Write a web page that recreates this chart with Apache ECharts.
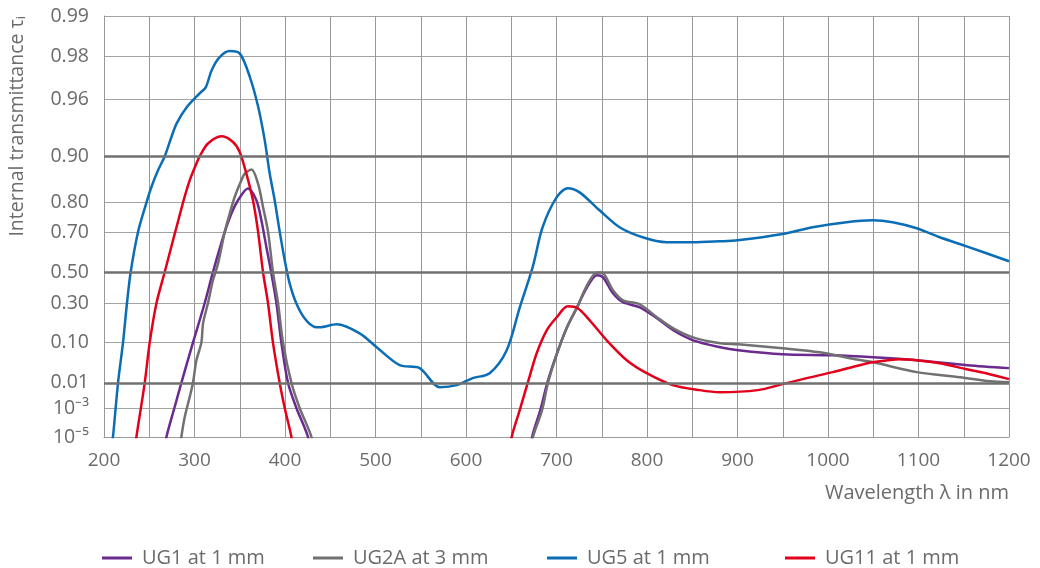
<!DOCTYPE html>
<html>
<head>
<meta charset="utf-8">
<script src="https://cdn.jsdelivr.net/npm/echarts@6/dist/echarts.min.js"></script>
<style>
  html, body { margin: 0; background: #fff; }
  #main { width: 1040px; height: 568px; }
</style>
</head>
<body>
<div id="main"></div>
<script>
// y scale ticks (internal transmittance) and where they sit on the special scale
const TICK_TAU = [1e-5, 1e-3, 0.01, 0.10, 0.30, 0.50, 0.70, 0.80, 0.90, 0.96, 0.98, 0.99];
const TICK_LABELS = ['10⁻⁵', '10⁻³', '0.01', '0.10', '0.30', '0.50', '0.70', '0.80', '0.90', '0.96', '0.98', '0.99'];
const TICK_POS = [0, 29, 54.2, 94.4, 134, 165, 205, 234.4, 281, 337.4, 380.7, 421];
const STRONG_LINES = [0.90, 0.50, 0.01];

// UG5 at 1 mm
const UG5_WL = [207, 209.9, 215.5, 221, 225.4, 229.5, 237.6, 246.9, 252.4, 259.7, 267.1, 274.5, 280.3, 291.4, 305.7, 312.4, 319, 327.8,
  338.9, 350.2, 361.2, 370.4, 377.6, 383.1, 388.6, 394.1, 399.7, 405.2, 412.6, 421.8, 432.8, 438.3, 457.1, 482.5, 501.3, 526.7, 548.8, 570.9,
  589.7, 607.4, 626.2, 645, 659.4, 673.6, 684.6, 700.1, 712.3, 725.5, 747.6, 769.7, 795.1, 821.7, 850.4, 880.2, 900.1, 949.8, 983, 1020.5,
  1049.3, 1071.4, 1098, 1123.4, 1153.2, 1200];
const UG5_T = [1e-7, 1e-5, 0.01, 0.10, 0.30, 0.50, 0.70, 0.80, 0.8407, 0.8758, 0.8995, 0.9263, 0.9410, 0.9546, 0.9638, 0.9671, 0.9750, 0.9797,
  0.9817, 0.9809, 0.9721, 0.9548, 0.9222, 0.8695, 0.8066, 0.7025, 0.5651, 0.4266, 0.2965, 0.2113, 0.1680, 0.1665, 0.1815, 0.1384, 0.0825, 0.0334, 0.028, 0.00716,
  0.00839, 0.01429, 0.0202, 0.0722, 0.2746, 0.5266, 0.7185, 0.8147, 0.8376, 0.8276, 0.7771, 0.7185, 0.6776, 0.6555, 0.6555, 0.6596, 0.6639, 0.6912, 0.7185, 0.737,
  0.7439, 0.737, 0.7145, 0.6776, 0.6361, 0.5598];

// UG11 at 1 mm (two pass bands)
const UG11_WL_A = [233, 235.8, 245, 250.5, 258, 267.1, 287.3, 294.7, 302.1, 305.7, 314.9, 329.7, 342.5, 349.9, 357.3, 364.6, 370.2, 375.7, 381.2, 386.7, 394.1, 399.7, 407.1, 410];
const UG11_T_A = [1e-7, 1e-5, 0.01, 0.10, 0.30, 0.50, 0.80, 0.8557, 0.8878, 0.8995, 0.9181, 0.9271, 0.9201, 0.9063, 0.8695, 0.8066, 0.7025, 0.50, 0.30, 0.10, 0.01, 1e-3, 1e-5, 1e-7];
const UG11_WL_B = [648, 650.5, 659.3, 668.2, 678.1, 689.2, 700.2, 712.4, 723.4, 736.7, 755.5, 777.6, 799.7, 828.4, 858.2, 880.3, 922.3, 949.9, 976.5, 1005.2, 1035, 1049.4, 1079.2, 1098, 1123.4, 1153.2, 1178.6, 1200];
const UG11_T_B = [1e-7, 1e-5, 7.5e-4, 0.0099, 0.0629, 0.1522, 0.2184, 0.2807, 0.269, 0.2021, 0.1088, 0.0442, 0.0202, 0.00839, 0.00562, 0.00472, 0.00562, 0.00907, 0.01429, 0.0217, 0.0334, 0.0395, 0.0467, 0.0442, 0.0375, 0.0262, 0.0189, 0.0133];

// UG1 at 1 mm
const UG1_WL_A = [266, 269, 278.1, 285.5, 298.3, 311.3, 320.4, 333.4, 340.8, 348.1, 359.1, 368.4, 373.9, 379.4, 385, 390.5, 396, 403.3, 412.6, 425.4, 428.5];
const UG1_T_A = [1e-7, 1e-5, 1.12e-3, 0.01, 0.10, 0.30, 0.50, 0.70, 0.7665, 0.8066, 0.8368, 0.8066, 0.7439, 0.633, 0.4902, 0.30, 0.10, 0.01, 1e-3, 1e-5, 1e-7];
const UG1_WL_B = [670, 673, 682, 690.6, 700.6, 711.6, 722.7, 733.7, 744.8, 751.4, 762.4, 773.5, 792, 811, 829, 851, 881, 901, 950, 1005, 1050, 1098, 1154, 1200];
const UG1_T_B = [1e-7, 1e-5, 7.5e-4, 0.012, 0.0629, 0.1665, 0.2746, 0.4023, 0.4797, 0.4667, 0.3634, 0.305, 0.2746, 0.2129, 0.1522, 0.1088, 0.0825, 0.0722, 0.0599, 0.0571, 0.0516, 0.0442, 0.0334, 0.028];

// UG2A at 3 mm
const UG2A_WL_A = [283, 285.5, 289.2, 294.7, 298.3, 302.1, 307.6, 309.4, 314.9, 320.4, 326, 333.4, 338.9, 344.4, 351.8, 355.5, 362.9, 370.2, 375.7, 381.2, 386.7, 392.3, 397.8, 407.1, 416.2, 429.2, 432];
const UG2A_T_A = [1e-7, 1e-5, 3.05e-4, 3.07e-3, 0.01, 0.044, 0.10, 0.1851, 0.30, 0.4478, 0.5472, 0.70, 0.7665, 0.8155, 0.8557, 0.8695, 0.8771, 0.8485, 0.7873, 0.7025, 0.50, 0.30, 0.10, 0.01, 1e-3, 1e-5, 1e-7];
const UG2A_WL_B = [671, 674, 684, 690.6, 700.6, 711.6, 722.7, 733.7, 744.8, 751.4, 762.4, 773.5, 792, 811, 829, 851, 881, 901, 950, 991, 1024, 1050, 1098, 1146, 1179, 1200];
const UG2A_T_B = [1e-7, 1e-5, 7.5e-4, 0.01, 0.0629, 0.1665, 0.2746, 0.4153, 0.497, 0.4917, 0.383, 0.3174, 0.2922, 0.2184, 0.1617, 0.121, 0.0973, 0.0934, 0.079, 0.0659, 0.049, 0.0395, 0.0217, 0.01535, 0.01127, 0.0104];

const TEXT = '#6b6b6b';
const FONT = 'Open Sans';

// the ordinate is a double log scale: interpolate between the printed ticks
function theta(t) { return -Math.log10(-Math.log10(t)); }
const TICK_THETA = TICK_TAU.map(theta);
function toPos(t) {
    const th = theta(t);
    let i = 0;
    while (i < TICK_THETA.length - 2 && th > TICK_THETA[i + 1]) i++;
    const f = (th - TICK_THETA[i]) / (TICK_THETA[i + 1] - TICK_THETA[i]);
    return TICK_POS[i] + f * (TICK_POS[i + 1] - TICK_POS[i]);
}
function pairs(wl, t) { return wl.map((w, i) => [w, toPos(t[i])]); }

function curve(name, color, wl, t) {
    return {
        name: name, type: 'line', z: 3,
        data: pairs(wl, t),
        smooth: 0.3, showSymbol: false, symbol: 'none',
        lineStyle: { color: color, width: 2.5 },
        itemStyle: { color: color },
        clip: true
    };
}

function legendAt(name, left) {
    return {
        data: [name], left: left, top: 548, padding: 0,
        icon: 'rect', itemWidth: 30, itemHeight: 3,
        textStyle: { color: TEXT, fontSize: 20, fontFamily: FONT, padding: [0, 0, 0, 5] }
    };
}

var myChart = echarts.init(document.getElementById('main'));
myChart.setOption({
    animation: false,
    grid: { left: 104, right: 31, top: 16, bottom: 131, containLabel: false, outerBoundsMode: 'none' },
    legend: [
        legendAt('UG1 at 1 mm', 102),
        legendAt('UG2A at 3 mm', 313),
        legendAt('UG5 at 1 mm', 547),
        legendAt('UG11 at 1 mm', 785)
    ],
    xAxis: {
        type: 'value', min: 200, max: 1200, interval: 50,
        axisLine: { show: true, lineStyle: { color: '#999' } },
        axisTick: { show: false },
        axisLabel: {
            color: TEXT, fontSize: 19, fontFamily: FONT, margin: 14,
            formatter: v => (v % 100 === 0 ? String(v) : '')
        },
        splitLine: { lineStyle: { color: '#999' } },
        name: 'Wavelength λ in nm',
        nameLocation: 'end', nameGap: 0, nameMoveOverlap: false,
        nameTextStyle: { color: TEXT, fontSize: 20, fontFamily: FONT, align: 'right', verticalAlign: 'top', padding: [46, 0, 0, 0] }
    },
    yAxis: {
        type: 'value', min: 0, max: TICK_POS[TICK_POS.length - 1],
        axisLine: { show: true, lineStyle: { color: '#999' } },
        axisTick: { show: false, customValues: TICK_POS },
        axisLabel: {
            customValues: TICK_POS, color: TEXT, fontSize: 19.5, fontFamily: FONT, margin: 15,
            formatter: v => {
                const i = TICK_POS.findIndex(p => Math.abs(p - v) < 1e-6);
                return i < 0 ? '' : TICK_LABELS[i];
            }
        },
        splitLine: { lineStyle: { color: '#a3a3a3' } },
        name: 'Internal transmittance τ{sub|i}',
        nameLocation: 'end', nameRotate: 90, nameGap: 0, nameMoveOverlap: false,
        nameTextStyle: {
            color: TEXT, fontSize: 19.5, fontFamily: FONT, align: 'right', verticalAlign: 'bottom', padding: [0, 0, 76, 0],
            rich: { sub: { fontSize: 13, fontFamily: FONT, color: TEXT, padding: [9, 0, 0, 0] } }
        }
    },
    series: [
        {
            type: 'line', data: [], z: 1, silent: true,
            markLine: {
                silent: true, symbol: 'none', label: { show: false },
                lineStyle: { color: '#707070', width: 2.5, type: 'solid' },
                data: STRONG_LINES.map(t => ({ yAxis: toPos(t) }))
            }
        },
        curve('UG1 at 1 mm', '#6a2a8e', UG1_WL_A, UG1_T_A),
        curve('UG1 at 1 mm', '#6a2a8e', UG1_WL_B, UG1_T_B),
        curve('UG2A at 3 mm', '#717171', UG2A_WL_A, UG2A_T_A),
        curve('UG2A at 3 mm', '#717171', UG2A_WL_B, UG2A_T_B),
        curve('UG5 at 1 mm', '#0a6db5', UG5_WL, UG5_T),
        curve('UG11 at 1 mm', '#e3001b', UG11_WL_A, UG11_T_A),
        curve('UG11 at 1 mm', '#e3001b', UG11_WL_B, UG11_T_B)
    ]
});
</script>
</body>
</html>
